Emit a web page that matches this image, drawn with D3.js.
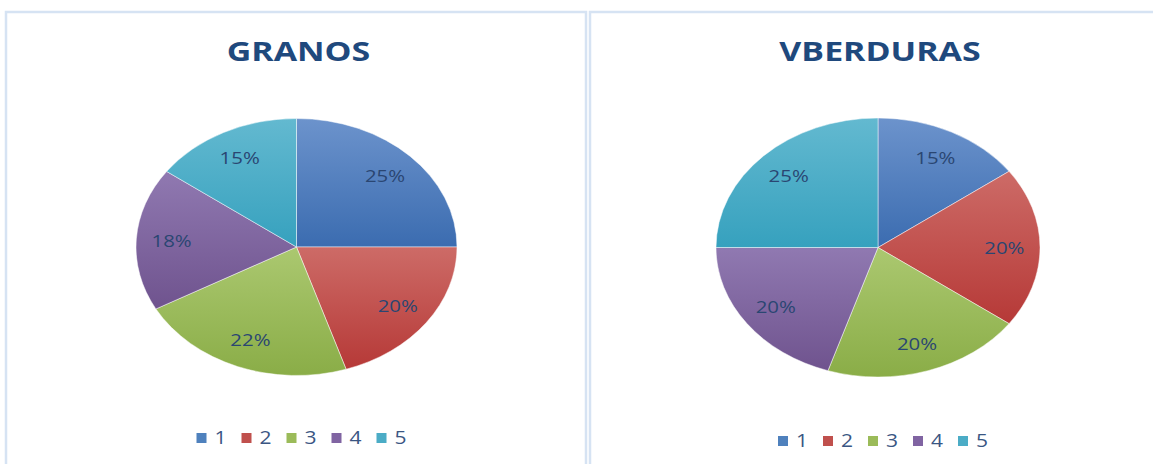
<!DOCTYPE html>
<html>
<head>
<meta charset="utf-8">
<script src="https://cdn.jsdelivr.net/npm/d3@7"></script>
<style>
    html, body { margin: 0; padding: 0; background: #fff; }
    svg { display: block; }
    text { font-family: "Open Sans", sans-serif; }
</style>
</head>
<body>
<svg id="chart" width="1153" height="464"></svg>
<script>
/* data */
const categories = ['1', '2', '3', '4', '5'];
const granosValues = [25, 20, 22, 18, 15];
const verdurasValues = [15, 20, 20, 20, 25];
const titles = ['GRANOS', 'VBERDURAS'];

// [top, bottom] gradient stops for each category
const sliceColors = [
    ['#6c93cc', '#3b6cb0'],
    ['#cd6b67', '#b63937'],
    ['#abc870', '#8aad47'],
    ['#9079b1', '#6f538e'],
    ['#63b9d0', '#36a1be']
];
const legendColors = ['#4f81bd', '#c0504d', '#9bbb59', '#8064a2', '#4bacc6'];

const svg = d3.select('#chart');
const defs = svg.append('defs');

sliceColors.forEach((c, i) => {
    let g = defs.append('linearGradient').attr('id', 'grad' + i)
        .attr('x1', 0).attr('y1', 0).attr('x2', 0).attr('y2', 1);
    g.append('stop').attr('offset', '0%').attr('stop-color', c[0]);
    g.append('stop').attr('offset', '100%').attr('stop-color', c[1]);
});

// panel frames
const panels = [
    {x: 6, y: 12, w: 580, h: 470, cx: 296.5, cy: 247, rx: 160.5, ry: 128.5, legY: 438, values: granosValues},
    {x: 590, y: 12, w: 580, h: 470, cx: 878, cy: 247.5, rx: 162, ry: 129.5, legY: 441, values: verdurasValues}
];

const pie = d3.pie().sort(null).value(d => d);
const arc = d3.arc().innerRadius(0).outerRadius(1);
const labelArc = d3.arc().innerRadius(0.78).outerRadius(0.78);
const textStretch = 1.2;

panels.forEach((p, k) => {
    svg.append('rect').attr('x', p.x).attr('y', p.y).attr('width', p.w).attr('height', p.h)
        .attr('fill', 'none').attr('stroke', '#d6e3f3').attr('stroke-width', 2.5);

    // title
    svg.append('text')
        .attr('transform', `translate(${p.cx + 2},61) scale(1.28,1)`)
        .attr('text-anchor', 'middle')
        .attr('font-size', 26.5).attr('font-weight', 700)
        .attr('fill', '#1f497d')
        .text(titles[k]);

    let arcs = pie(p.values);

    // slices (unit circle scaled into ellipse)
    let g = svg.append('g').attr('transform', `translate(${p.cx},${p.cy}) scale(${p.rx},${p.ry})`);
    g.selectAll('path.slice').data(arcs).enter().append('path')
        .attr('class', 'slice')
        .attr('d', arc)
        .attr('fill', (d, i) => 'url(#grad' + i + ')')
        .attr('stroke', '#ffffff').attr('stroke-opacity', 0.6)
        .attr('stroke-width', 0.8).attr('vector-effect', 'non-scaling-stroke');

    // percentage labels
    svg.append('g').selectAll('text').data(arcs).enter().append('text')
        .attr('transform', d => {
            let c = labelArc.centroid(d);
            return `translate(${p.cx + c[0] * p.rx},${p.cy + c[1] * p.ry}) scale(${textStretch},1)`;
        })
        .attr('text-anchor', 'middle').attr('dy', '0.36em')
        .attr('font-size', 17).attr('fill', '#2a4672')
        .text(d => d.data + '%');

    // legend
    let leg = svg.append('g').attr('transform', `translate(${p.cx - 100},${p.legY})`);
    let item = leg.selectAll('g').data(categories).enter().append('g')
        .attr('transform', (d, i) => `translate(${i * 45},0)`);
    item.append('rect').attr('x', 0).attr('y', -5).attr('width', 10).attr('height', 10)
        .attr('fill', (d, i) => legendColors[i]);
    item.append('text')
        .attr('transform', `translate(18,0) scale(${textStretch},1)`)
        .attr('dy', '0.36em').attr('font-size', 17.5).attr('fill', '#3a5683')
        .text(d => d);
});
</script>
</body>
</html>
